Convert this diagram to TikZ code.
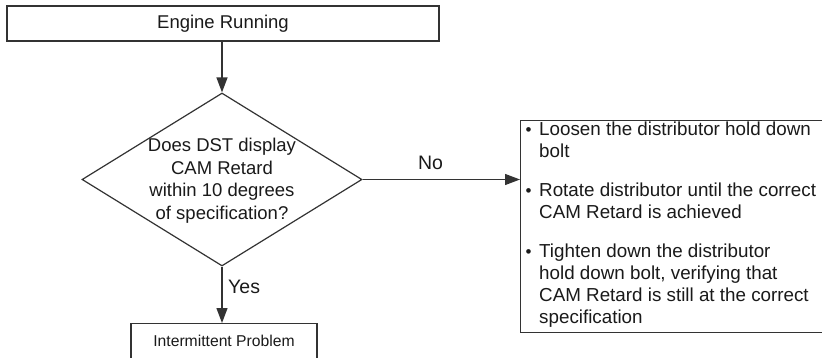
\documentclass[tikz,border=0pt]{standalone}
\usepackage{fontspec}
\setmainfont{Liberation Sans}
\usetikzlibrary{shapes.geometric,arrows.meta}
\definecolor{linec}{HTML}{333333}
\definecolor{txtc}{HTML}{1A1A1A}
\newcommand{\mybul}{\makebox[16pt][l]{\hspace{2.5pt}{\fontsize{17}{17}\selectfont\raisebox{0.5pt}{\textbullet}}}}
\begin{document}
\begin{tikzpicture}[x=1pt,y=-1pt,
  box/.style={draw=linec, line width=1.4pt, inner sep=0pt, text=txtc},
  conn/.style={draw=linec, line width=1.3pt, -{Triangle[length=15pt,width=11pt]}},
  lbl/.style={font=\fontsize{19.5}{22}\selectfont, text=txtc, inner sep=0pt}]
\useasboundingbox (0,0) rectangle (822,358);
\fill[white] (0,0) rectangle (822,358);
% top box
\node[box, minimum width=432pt, minimum height=35pt, font=\fontsize{18.5}{22}\selectfont] (eng) at (223,23.5) {Engine Running};
% decision
\node[diamond, draw=linec, line width=1.2pt, minimum width=280pt, minimum height=173pt, inner sep=0pt] (q) at (222,179.5) {};
\node[align=center, inner sep=0pt, text=txtc, font=\fontsize{18.5}{22.5}\selectfont] (qt) at (222,180.5) {Does DST display\\CAM Retard\\within 10 degrees\\of specification?};
% bottom box
\node[box, minimum width=186pt, minimum height=35pt, anchor=north, font=\fontsize{15.7}{18}\selectfont] (ip) at (224,323) {Intermittent Problem};
% right box
\node[box, anchor=north west, minimum width=320pt, minimum height=212pt] (fix) at (520,120) {};
\node[anchor=north west, inner sep=0pt, text=txtc, font=\fontsize{18.8}{22}\selectfont] (fixt) at (523,120) {%
\renewcommand{\arraystretch}{1}%
\begin{tabular}{@{}l@{}l@{}}
\mybul & Loosen the distributor hold down\\
 & bolt\\[17pt]
\mybul & Rotate distributor until the correct\\
 & CAM Retard is achieved\\[17pt]
\mybul & Tighten down the distributor\\
 & hold down bolt, verifying that\\
 & CAM Retard is still at the correct\\
 & specification
\end{tabular}};
% connectors
\draw[conn] (q.north |- eng.south) -- (q.north);
\draw[conn] (q.south) -- (q.south |- ip.north);
\draw[conn] (q.east) -- (q.east -| fix.west);
% labels
\node[lbl, anchor=west] (yes) at (228,287) {Yes};
\node[lbl] (no) at (430.5,163) {No};
\end{tikzpicture}
\end{document}
